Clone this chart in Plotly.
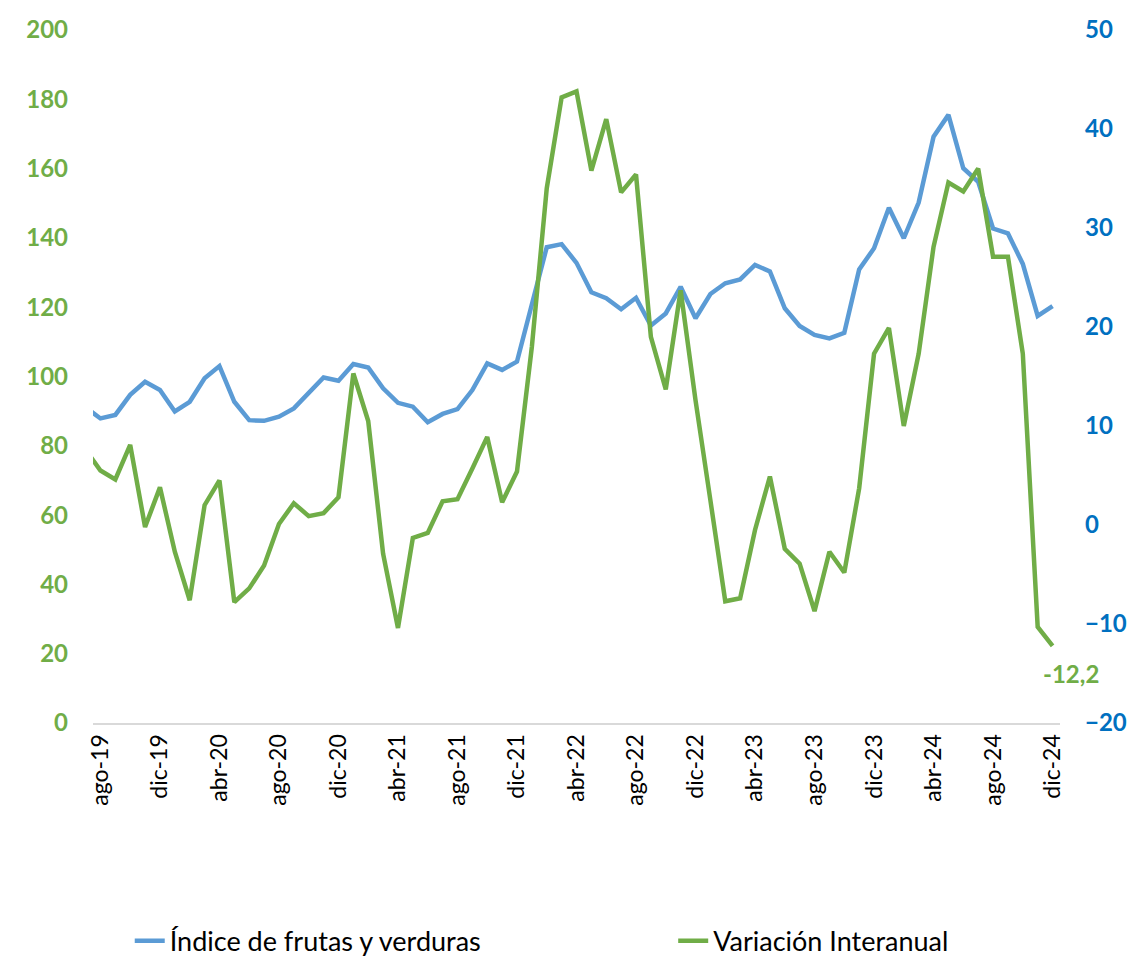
import plotly.graph_objects as go

# Monthly categories jul-19 .. dic-24 (jul-19 sits just outside the visible range)
month_abbr = ['ene', 'feb', 'mar', 'abr', 'may', 'jun', 'jul', 'ago', 'sep', 'oct', 'nov', 'dic']
months = [f'{m}-{y}' for y in range(19, 25) for m in month_abbr][6:]

# Índice de frutas y verduras (left axis)
indice = [
    91.1, 87.9, 88.9, 94.7, 98.5, 96.1,
    89.9, 92.7, 99.5, 103.0, 92.7, 87.4, 87.2, 88.4, 90.8, 95.1, 99.7, 98.8,
    103.6, 102.6, 96.6, 92.4, 91.3, 86.8, 89.2, 90.6, 96.1, 103.8, 101.9, 104.3,
    120.8, 137.3, 138.2, 132.8, 124.3, 122.6, 119.4, 122.7, 114.7, 118.2, 125.9, 116.8,
    123.8, 126.9, 128.0, 132.2, 130.3, 119.7, 114.6, 112.0, 111.0, 112.6, 130.9, 137.0,
    148.7, 139.9, 150.2, 169.2, 175.5, 160.1, 156.2, 142.7, 141.3, 132.5, 117.5, 120.3,
]

# Variación interanual (right axis, %)
variacion = [
    7.6, 5.5, 4.6, 8.1, -0.2, 3.8,
    -2.7, -7.6, 2.0, 4.5, -7.8, -6.4, -4.1, 0.1, 2.2, 0.9, 1.2, 2.8,
    15.3, 10.5, -2.9, -10.4, -1.3, -0.8, 2.4, 2.6, 5.7, 8.9, 2.3, 5.4,
    18.0, 34.0, 43.2, 43.8, 35.8, 41.0, 33.6, 35.4, 19.0, 13.7, 23.7, 12.6,
    2.5, -7.7, -7.4, -0.5, 4.9, -2.4, -3.9, -8.7, -2.7, -4.8, 3.7, 17.3,
    19.9, 10.0, 17.3, 28.1, 34.6, 33.7, 36.0, 27.1, 27.1, 17.3, -10.3, -12.2,
]

tick_labels = months[1::4]

BLUE = '#5B9BD5'
GREEN = '#70AD47'
AXIS_BLUE = '#0070C0'
FONT = 'Lato, sans-serif'

fig = go.Figure()

fig.add_trace(go.Scatter(
    x=months,
    y=indice,
    mode='lines',
    name='Índice de frutas y verduras',
    line=dict(color=BLUE, width=4.5),
    legend='legend',
    showlegend=True,
))

fig.add_trace(go.Scatter(
    x=months,
    y=variacion,
    mode='lines',
    name='Variación Interanual',
    line=dict(color=GREEN, width=4.5),
    yaxis='y2',
    legend='legend2',
    showlegend=True,
))

# Last value label
fig.add_annotation(
    x=months[-1],
    y=variacion[-1],
    yref='y2',
    text='-12,2',
    showarrow=False,
    xshift=18,
    yshift=-28,
    font=dict(family=FONT, size=24, color=GREEN, weight='bold'),
)

legend_font = dict(family=FONT, size=27, color='black')

# page body adds an 8px margin, so the figure is drawn 16px smaller
fig.update_layout(
    width=1124,
    height=950,
    showlegend=True,
    template='plotly_white',
    plot_bgcolor='white',
    paper_bgcolor='white',
    font=dict(family=FONT, size=22, color='black'),
    margin=dict(t=22, b=235, l=85, r=72, autoexpand=False),
    legend=dict(
        visible=True,
        orientation='h',
        x=0.038,
        xanchor='left',
        y=-0.315,
        yanchor='middle',
        font=legend_font,
    ),
    legend2=dict(
        visible=True,
        orientation='h',
        x=0.600,
        xanchor='left',
        y=-0.315,
        yanchor='middle',
        font=legend_font,
    ),
    xaxis=dict(
        type='category',
        range=[0.5, len(months) - 0.5],
        tickvals=tick_labels,
        ticktext=tick_labels,
        tickangle=-90,
        showgrid=False,
        showline=True,
        linecolor='#D9D9D9',
        linewidth=2,
        ticks='',
        automargin=False,
        tickfont=dict(family=FONT, size=23, color='black'),
    ),
    yaxis=dict(
        range=[0, 200],
        dtick=20,
        showgrid=False,
        zeroline=False,
        ticks='',
        automargin=False,
        ticklabelstandoff=24,
        tickfont=dict(family=FONT, size=24, color=GREEN, weight='bold'),
    ),
    yaxis2=dict(
        range=[-20, 50],
        dtick=10,
        overlaying='y',
        side='right',
        showgrid=False,
        zeroline=False,
        ticks='',
        automargin=False,
        ticklabelstandoff=24,
        tickfont=dict(family=FONT, size=24, color=AXIS_BLUE, weight='bold'),
    ),
)

fig.write_html('out.html')
